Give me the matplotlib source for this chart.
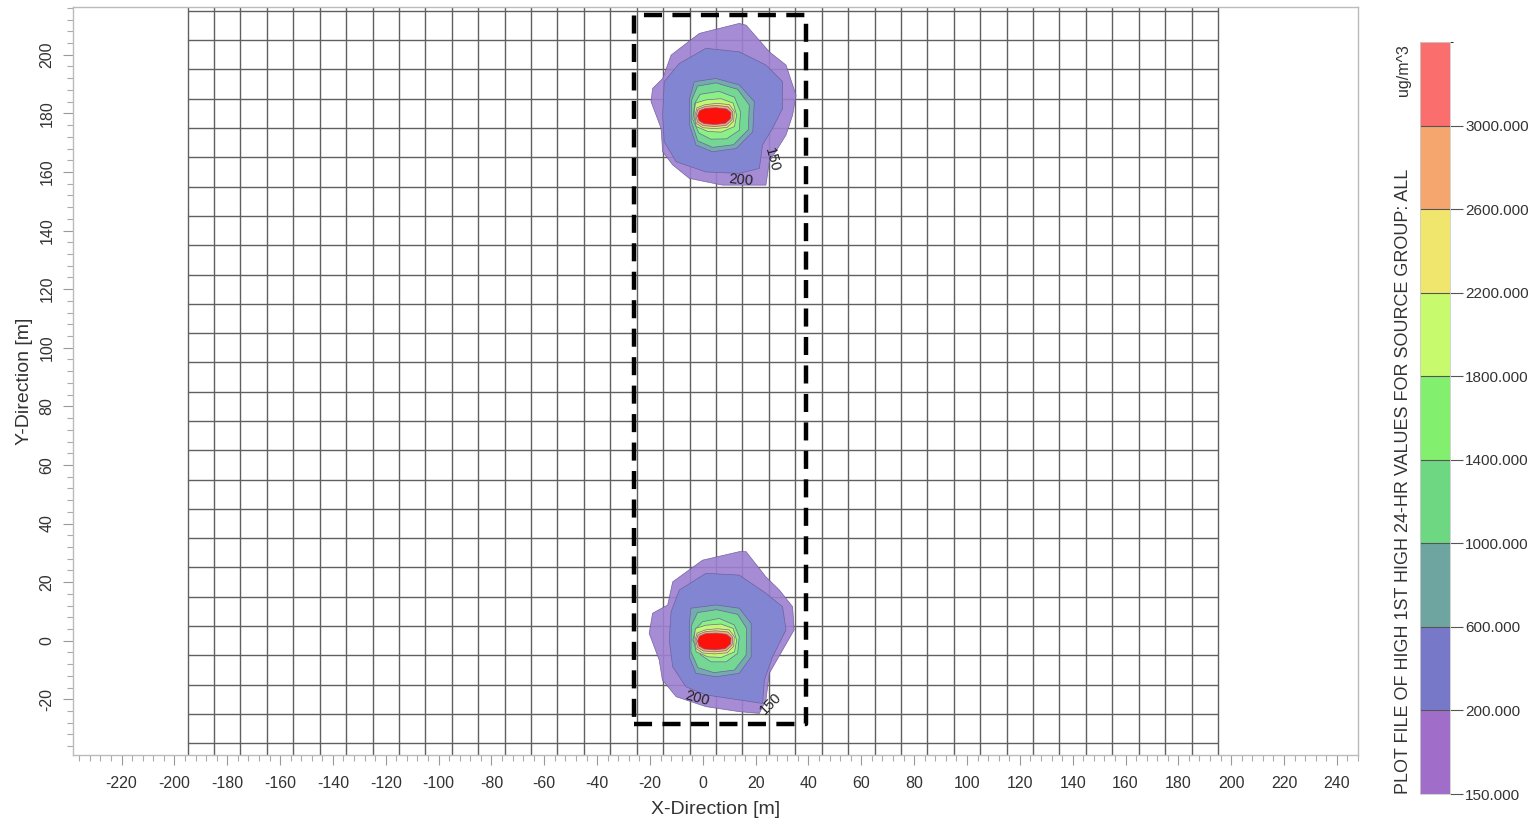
import numpy as np
import matplotlib
matplotlib.use("Agg")
import matplotlib.pyplot as plt
from matplotlib.colors import ListedColormap, BoundaryNorm
from matplotlib.colorbar import ColorbarBase
from matplotlib.ticker import MultipleLocator

plt.rcParams['font.family'] = ['Liberation Sans', 'DejaVu Sans']
plt.rcParams['lines.scale_dashes'] = False
plt.rcParams['axes.unicode_minus'] = False

# ---------------- data ----------------
levels = [150, 200, 600, 1000, 1400, 1800, 2200, 2600, 3000]
level_top = 3400
cbar_colors = ['#a06ec8', '#7878c8', '#6ea5a0', '#6ed782', '#82f06e',
               '#c8fa6e', '#f0e66e', '#f5a56e', '#fa6e6e']
fill_colors = ['#9c80d0', '#7f86d2', '#74b0ac', '#74dc90', '#8ef486',
               '#c8fa6e', '#f0e66e', '#f5a56e', '#ff0000']

# receptor grid lines (m)
grid_x = np.arange(-195, 196, 10)
grid_y = np.arange(-35, 216, 10)

# dashed boundary rectangle (m)
box_x = [-26, 39, 39, -26, -26]
box_y = [-28.5, -28.5, 213.5, 213.5, -28.5]

# ---- upper source contours (x, y) in m ----
top_150 = [(13.8, 210.7), (-1.3, 207.3), (-12, 199.9), (-15.2, 191.9), (-19, 188.5),
           (-19.6, 184), (-15.8, 174.9), (-15.2, 166.9), (-11.4, 162.4), (-5.1, 157.8),
           (7.5, 155.5), (23.9, 155.5), (25.2, 163.5), (31.5, 172.6), (34, 179.4),
           (35.3, 186.2), (31.5, 196.5), (25.2, 201), (16.4, 210.1)]
top_200 = [(1.2, 202.2), (-8.9, 197), (-14.6, 190.8), (-15.2, 179.4), (-14.6, 170.3),
           (-10.1, 163.5), (1.2, 160), (13.8, 159.5), (21.4, 161.2), (22.6, 169.2),
           (26.4, 174.9), (30.2, 181.7), (30.2, 190.8), (23.9, 196.5), (13.8, 201)]
top_600 = [(-3.2, 190.8), (5, 191.9), (13.8, 189.7), (19.5, 184), (18.9, 173.7),
           (12.6, 168), (3.7, 166.9), (-2.6, 169.2), (-5, 176), (-5, 185.1)]
top_1000 = [(-2, 189.3), (5, 190.4), (13.2, 188.2), (17.6, 182.8), (17.2, 174.4),
            (11.6, 169.3), (3.7, 168.4), (-1.9, 170.6), (-4.4, 177.4), (-4.2, 184.6)]
top_1400 = [(-1, 186.5), (6.2, 187.5), (12, 185.5), (14.3, 180.5), (13.8, 174.2),
            (9, 171.3), (3, 171.2), (-1.5, 173.3), (-3.8, 178), (-3, 183.5)]
top_1800 = [(-2.8, 183.5), (1.2, 184.6), (6.9, 185), (11.5, 183.5), (12.8, 179.4),
            (12, 175.5), (7, 173.6), (2, 173.8), (-2.5, 175.5), (-3.4, 179.2)]
top_2200 = [(-3, 179.2), (-2.2, 181.9), (1, 183), (5.5, 183.4), (10, 183), (11.9, 180.7),
            (11.7, 177.4), (9.2, 175.2), (4.5, 174.8), (0, 175.1), (-2.5, 176.6)]
top_2600 = [(-2.6, 179.2), (-1.8, 181.4), (1, 182.4), (5, 182.7), (9.5, 182.3), (11.3, 180.5),
            (11.1, 177.8), (8.8, 175.9), (4.5, 175.5), (0.2, 175.8), (-2, 177)]
top_3000 = [(-2, 179.2), (-1.2, 180.9), (1, 181.7), (5, 181.9), (9, 181.5), (10.7, 180.2),
            (10.5, 178.2), (8.5, 176.6), (4.5, 176.2), (0.5, 176.5), (-1.4, 177.5)]

# ---- lower source contours (x, y) in m ----
bot_150 = [(13.8, 30.4), (-0.1, 27.5), (-11.4, 20.1), (-13.3, 12.2), (-19, 9.4),
           (-20.3, 2.5), (-16.5, -6.6), (-15.3, -13.4), (-10.1, -19.1), (1.2, -22.5),
           (13.8, -24.2), (21.4, -24.8), (23.9, -20.2), (25.2, -11.1), (30.2, -3.2),
           (34.6, 3.7), (34, 11.6), (29, 17.3), (23.9, 21.8), (16.4, 30.4)]
bot_200 = [(1.2, 23), (-8.9, 17.3), (-12, 9.9), (-12.7, 0.2), (-11.4, -8.9),
           (-6.4, -15.7), (1.2, -18.5), (13.8, -20.2), (22.6, -21.4), (23.3, -13.4),
           (26.4, -5.5), (31.5, 3.7), (30.2, 11.6), (23.9, 16.2), (13.8, 22.4)]
bot_600 = [(-4.5, 11.1), (5, 12.2), (13.8, 11.1), (18.3, 5.9), (18.3, -5.5),
           (13.8, -11.1), (5, -12.3), (-2.6, -11.1), (-5.1, -5.5), (-5.1, 5.9)]
bot_1000 = [(-2, 9.6), (5.2, 10.6), (13.2, 9), (16.6, 4.2), (16.4, -4.9),
            (12, -10), (4.2, -10.9), (-1.8, -9.2), (-4.5, -3.8), (-4.3, 5.2)]
bot_1400 = [(-0.1, 6.5), (6.2, 7.6), (11.9, 5.4), (13.8, 1.4), (13.2, -4.3),
            (8.8, -7.2), (3.1, -7.2), (-0.7, -4.9), (-3.8, 0.2), (-2.5, 4.2)]
bot_1800 = [(-2.8, 4.2), (1.2, 5.3), (6.9, 5.7), (11.5, 4.2), (12.8, 0.1),
            (12, -3.8), (7, -5.7), (2, -5.5), (-2.5, -3.8), (-3.4, -0.1)]
bot_2200 = [(-3, -0.1), (-2.2, 2.6), (1, 3.7), (5.5, 4.1), (10, 3.7), (11.9, 1.4),
            (11.7, -1.9), (9.2, -4.1), (4.5, -4.5), (0, -4.2), (-2.5, -2.7)]
bot_2600 = [(-2.6, -0.1), (-1.8, 2.1), (1, 3.1), (5, 3.4), (9.5, 3), (11.3, 1.2),
            (11.1, -1.5), (8.8, -3.4), (4.5, -3.8), (0.2, -3.5), (-2, -2.3)]
bot_3000 = [(-2, -0.1), (-1.2, 1.6), (1, 2.4), (5, 2.6), (9, 2.2), (10.7, 0.9),
            (10.5, -1.1), (8.5, -2.7), (4.5, -3.1), (0.5, -2.8), (-1.4, -1.8)]

top_polys = [top_150, top_200, top_600, top_1000, top_1400, top_1800, top_2200, top_2600, top_3000]
bot_polys = [bot_150, bot_200, bot_600, bot_1000, bot_1400, bot_1800, bot_2200, bot_2600, bot_3000]

# contour labels: (text, x, y, rotation)
label_text = ['150', '200', '200', '150']
label_x = [26.0, 14.5, -2.0, 25.8]
label_y = [164.0, 157.2, -19.7, -21.4]
label_rot = [-75, -5, -15, 45]

xlim = (-238.5, 248)
ylim = (-39, 216.2)

# ---------------- figure ----------------
fig = plt.figure(figsize=(15.39, 8.25), dpi=100)
ax = fig.add_axes([72.7 / 1539, 1 - 755 / 825, (1358 - 72.7) / 1539, (755 - 7.3) / 825])
ax.set_xlim(*xlim)
ax.set_ylim(*ylim)

gcol = '#606060'
for gx in grid_x:
    ax.axvline(gx, color=gcol, lw=1.0, zorder=1)
ax.hlines(grid_y, grid_x[0], grid_x[-1], color=gcol, lw=1.0, zorder=1)

for polys in (top_polys, bot_polys):
    for poly, col in zip(polys, fill_colors):
        xs = [p[0] for p in poly]
        ys = [p[1] for p in poly]
        ax.fill(xs, ys, facecolor=col, edgecolor='#6a5a9a', lw=0.5, alpha=0.9, zorder=2)

for t, lx, ly, r in zip(label_text, label_x, label_y, label_rot):
    ax.text(lx, ly, t, rotation=r, ha='center', va='center', fontsize=10.5,
            color='#222222', zorder=4)

ax.plot(box_x, box_y, color='black', lw=3.2, dashes=(13, 7.5), zorder=5,
        solid_capstyle='butt', dash_capstyle='butt')

ax.set_xticks(np.arange(-220, 241, 20))
ax.set_yticks(np.arange(-20, 201, 20))
ax.xaxis.set_minor_locator(MultipleLocator(4))
ax.yaxis.set_minor_locator(MultipleLocator(4))
ax.tick_params(which='major', direction='out', length=7, width=0.8, color='#999999',
               labelsize=11.5, labelcolor='#333333')
ax.tick_params(axis='x', which='major', pad=8)
ax.tick_params(axis='y', which='major', pad=6)
ax.tick_params(which='minor', direction='out', length=4, width=0.8, color='#aaaaaa')
for lab in ax.get_yticklabels():
    lab.set_rotation(90)
    lab.set_va('center')
for s in ax.spines.values():
    s.set_color('#bbbbbb')
    s.set_linewidth(1.0)

ax.set_xlabel('X-Direction [m]', fontsize=14, color='#333333', labelpad=7)
ax.set_ylabel('Y-Direction [m]', fontsize=14, color='#333333', labelpad=5)

# ---------------- colorbar ----------------
cax = fig.add_axes([1420 / 1539, 1 - 794 / 825, 30 / 1539, (794 - 42) / 825])
bounds = levels + [level_top]
cmap = ListedColormap(cbar_colors)
norm = BoundaryNorm(bounds, cmap.N)
cb = ColorbarBase(cax, cmap=cmap, norm=norm, boundaries=bounds, ticks=levels,
                  spacing='uniform', drawedges=True)
cb.set_ticklabels([f"{v:.3f}" for v in levels])
cb.outline.set_edgecolor('#cccccc')
cb.outline.set_linewidth(0.6)
cb.dividers.set_color('#555555')
cb.dividers.set_linewidth(0.8)
cax.tick_params(length=9, width=0.8, color='#555555', labelsize=11, labelcolor='#333333', pad=2)

fig.text(1404 / 1539, 1 - 794 / 825, 'PLOT FILE OF HIGH 1ST HIGH 24-HR VALUES FOR SOURCE GROUP: ALL',
         rotation=90, ha='center', va='bottom', fontsize=13, color='#333333')
fig.text(1404 / 1539, 1 - 44 / 825, 'ug/m^3', rotation=90, ha='center', va='top',
         fontsize=11.5, color='#333333')

fig.savefig('out.png', dpi=100)
